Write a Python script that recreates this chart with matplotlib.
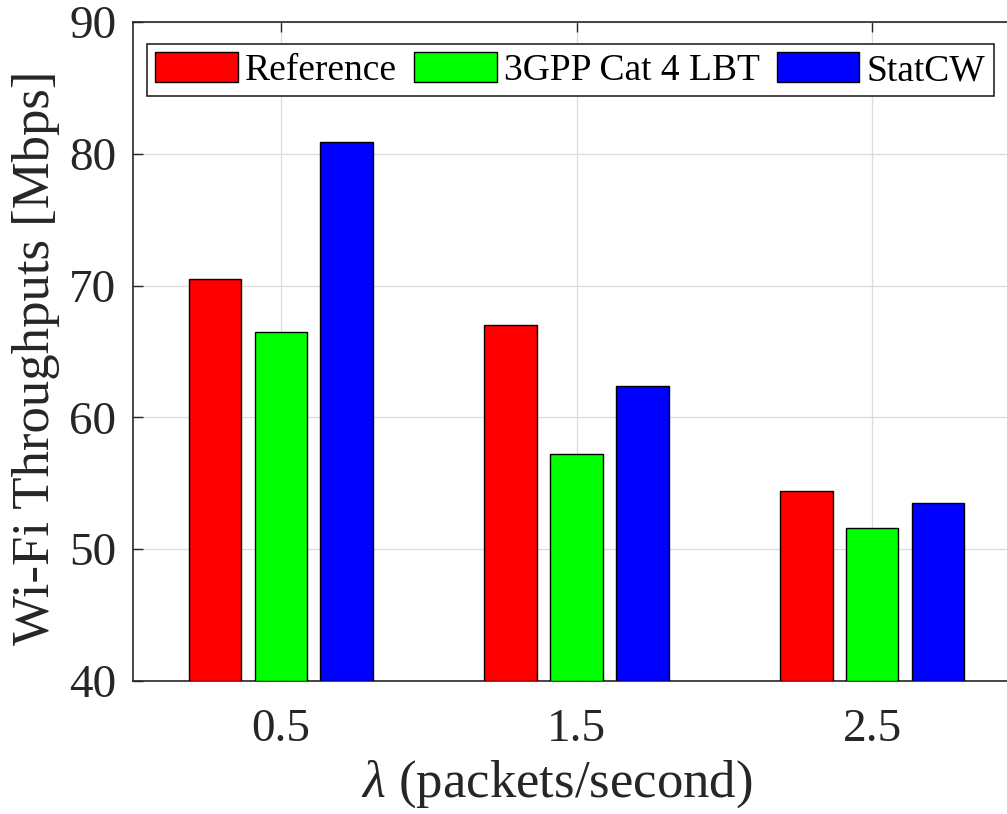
import numpy as np
import matplotlib; matplotlib.use("Agg")
import matplotlib.pyplot as plt

plt.rcParams["font.family"] = ["Liberation Serif", "DejaVu Serif"]
plt.rcParams["mathtext.fontset"] = "custom"
plt.rcParams["mathtext.rm"] = "Liberation Serif"
plt.rcParams["mathtext.it"] = "Liberation Serif:italic"

# ── Data ──────────────────────────────────────────────────────────────
lambdas = [0.5, 1.5, 2.5]
series_names = ["Reference", "3GPP Cat 4 LBT", "StatCW"]
reference = [70.5, 67.0, 54.4]
cat4_lbt = [66.5, 57.2, 51.6]
statcw = [80.9, 62.4, 53.5]
colors = ["#ff0000", "#00ff00", "#0000ff"]

# ── Figure ────────────────────────────────────────────────────────────
W, H = 1007, 814
fig = plt.figure(figsize=(W / 100, H / 100), dpi=100)
ax = fig.add_axes([133 / W, 1 - 681 / H, 887 / W, 659 / H])

x = np.array(lambdas)
step = 0.2222
width = 0.178
for i, (vals, name) in enumerate(zip([reference, cat4_lbt, statcw], series_names)):
    ax.bar(x + (i - 1) * step, np.array(vals) - 40, bottom=40, width=width,
           color=colors[i], edgecolor="black", linewidth=1.0, label=name, zorder=3)

ax.set_xlim(0, 3)
ax.set_ylim(40, 90)
ax.set_xticks(lambdas)
ax.set_xticklabels(["0.5", "1.5", "2.5"])
ax.set_yticks(np.arange(40, 91, 10))
ax.grid(True, color="#dcdcdc", linewidth=0.9, zorder=0)
ax.set_axisbelow(True)

for sp in ax.spines.values():
    sp.set_color("#262626")
    sp.set_linewidth(1.2)

ax.tick_params(axis="both", direction="in", length=7, width=1.0, color="#262626",
               top=True, right=True, labelsize=34, labelcolor="#262626")
ax.tick_params(axis="x", pad=20)
ax.tick_params(axis="y", pad=12)

ax.set_ylabel("Wi-Fi Throughputs [Mbps]", fontsize=38, color="#262626")
ax.yaxis.set_label_coords(-73 / 887, 0.5 - 6 / 659)
ax.set_xlabel(r"$\lambda$ (packets/second)", fontsize=38, color="#262626")
ax.xaxis.set_label_coords(0.5 - 20 / 887, -77 / 659)

leg = ax.legend(loc="upper left", bbox_to_anchor=(147 / W, 1 - 44 / H),
                bbox_transform=fig.transFigure, ncol=3, fontsize=27,
                frameon=True, fancybox=False, framealpha=1, edgecolor="#262626",
                handlelength=2.2, handleheight=0.85, handletextpad=0.2,
                columnspacing=0.45, borderpad=0.22, borderaxespad=0)
leg.get_frame().set_linewidth(1.2)

fig.savefig("out.png", dpi=100)
